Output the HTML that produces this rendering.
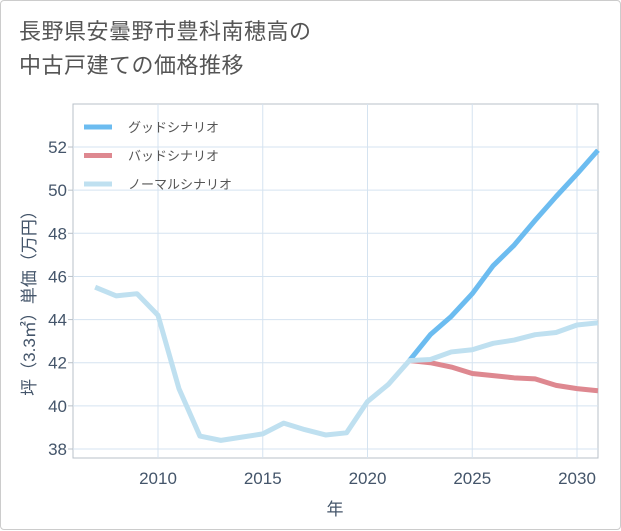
<!DOCTYPE html>
<html><head><meta charset="utf-8"><style>
body{margin:0;background:#fff;}
#card{position:absolute;left:0;top:0;width:618px;height:527px;border:1px solid #ccc;border-radius:4px;background:#fff;box-sizing:border-box;width:621px;height:530px;}
#title{position:absolute;left:18px;top:14px;font:22px/34px "Liberation Sans","Noto Sans CJK JP",sans-serif;color:#555;letter-spacing:0.5px;}
svg text{font-family:"Liberation Sans","Noto Sans CJK JP",sans-serif;}
</style></head><body>
<div id="card">
<div id="title">長野県安曇野市豊科南穂高の<br>中古戸建ての価格推移</div>
<svg id="chart" width="621" height="530" style="position:absolute;left:0;top:0"></svg>
</div>
<script>
const years=[2007,2008,2009,2010,2011,2012,2013,2014,2015,2016,2017,2018,2019,2020,2021,2022,2023,2024,2025,2026,2027,2028,2029,2030,2031];
const normal=[45.5,45.1,45.2,44.2,40.8,38.6,38.4,38.55,38.7,39.2,38.9,38.65,38.75,40.2,41.0,42.1,42.15,42.5,42.6,42.9,43.05,43.3,43.4,43.75,43.85];
const goodYears=[2022,2023,2024,2025,2026,2027,2028,2029,2030,2031];
const good=[42.1,43.3,44.15,45.2,46.5,47.45,48.6,49.7,50.75,51.85];
const bad=[42.1,42.0,41.8,41.5,41.4,41.3,41.25,40.95,40.8,40.7];
const xTicks=[2010,2015,2020,2025,2030];
const yTicks=[38,40,42,44,46,48,50,52];
const L=72,R=597,T=103,B=457;
const x=v=>157+(v-2010)*20.95;
const y=v=>448-(v-38)*21.57;
const svg=document.getElementById('chart');
const NS='http://www.w3.org/2000/svg';
function mk(t,a){const e=document.createElementNS(NS,t);for(const k in a)e.setAttribute(k,a[k]);svg.appendChild(e);return e;}
let e=mk('rect',{x:L,y:T,width:R-L,height:B-T,fill:'#fff',stroke:'#b8c0c8','stroke-width':1});


xTicks.forEach(v=>{
 let g=mk('line',{x1:x(v),x2:x(v),y1:T,y2:B,stroke:'#d5e3f0'});
 
 
 let t=mk('text',{x:x(v),y:B+26,'text-anchor':'middle','font-size':17,fill:'#44556a'});t.textContent=v;
 
 
});
yTicks.forEach(v=>{
 let g=mk('line',{x1:L,x2:R,y1:y(v),y2:y(v),stroke:'#d5e3f0'});
 
 
 let k=mk('line',{x1:L-5,x2:L,y1:y(v),y2:y(v),stroke:'#b8c0c8'});
 
 
 let t=mk('text',{x:L-6,y:y(v)+6,'text-anchor':'end','font-size':17,fill:'#44556a'});t.textContent=v;
 
 
});
function line(xs,ys,c,n){
 const p=mk('polyline',{points:xs.map((v,i)=>x(v)+','+y(ys[i])).join(' '),fill:'none',stroke:c,'stroke-width':5,'stroke-linejoin':'round'});
 
 
}
line(goodYears,good,'#6cbcf0','good-scenario-line');
line(goodYears,bad,'#de8890','bad-scenario-line');
line(years,normal,'#bfe0f0','normal-scenario-line');
const leg=[['グッドシナリオ','#6cbcf0'],['バッドシナリオ','#de8890'],['ノーマルシナリオ','#bfe0f0']];
leg.forEach((l,i)=>{
 const yy=126+i*28.5;
 let s=mk('line',{x1:83,x2:111,y1:yy,y2:yy,stroke:l[1],'stroke-width':5});
 
 
 let t=mk('text',{x:127,y:yy+5,'font-size':13,fill:'#555'});t.textContent=l[0];
 
 
});
let xt=mk('text',{x:334,y:514,'text-anchor':'middle','font-size':17,fill:'#44556a'});xt.textContent='年';


let yt=mk('text',{x:0,y:0,'text-anchor':'middle','font-size':17,fill:'#44556a',transform:'translate(34,298) rotate(-90)'});yt.textContent='坪（3.3㎡）単価（万円）';


</script>
</body></html>
